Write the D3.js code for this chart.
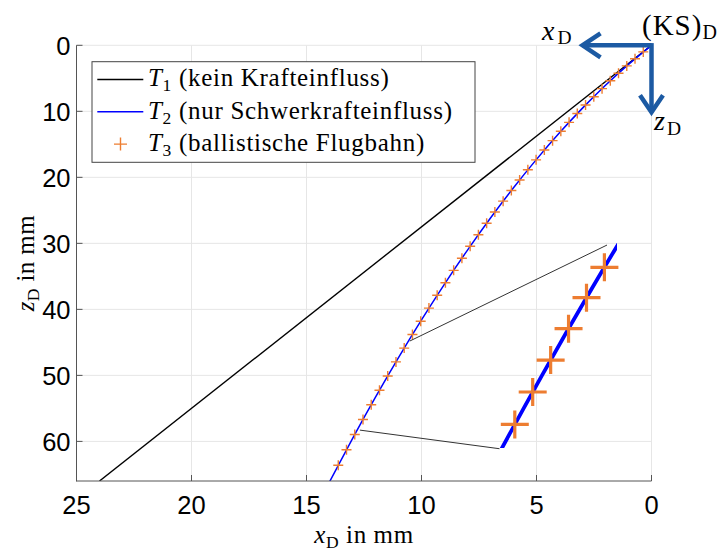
<!DOCTYPE html>
<html>
<head>
<meta charset="utf-8">
<script src="https://cdn.jsdelivr.net/npm/d3@7"></script>
<style>
  body { margin: 0; background: #fff; }
  svg { display: block; }
</style>
</head>
<body>
<svg id="chart" width="721" height="551"></svg>
<script>
// Axis ticks (mm)
const xTicks = [25, 20, 15, 10, 5, 0];
const zTicks = [0, 10, 20, 30, 40, 50, 60];

// T1: straight path without any force
const t1X = [0, 24];
const t1Z = [0, 66];

// T2: path under gravity only
const t2X = [0, 1, 2, 3, 4, 5, 6, 7, 8, 9, 10, 11, 12, 13, 14];
const t2Z = [0, 2.89, 6.06, 9.52, 13.26, 17.28, 21.58, 26.16, 31.02, 36.17, 41.60, 47.31, 53.30, 59.58, 66.14];

// T3: ballistic flight path samples
const t3X = [0, 0.358, 0.717, 1.075, 1.434, 1.792, 2.150, 2.509, 2.867, 3.226,
             3.584, 3.942, 4.301, 4.659, 5.018, 5.376, 5.734, 6.093, 6.451, 6.810,
             7.168, 7.526, 7.885, 8.243, 8.602, 8.960, 9.318, 9.677, 10.035, 10.394,
             10.752, 11.110, 11.469, 11.827, 12.186, 12.544, 12.902, 13.261, 13.619];
const t3Z = [0, 1.00, 2.04, 3.12, 4.23, 5.38, 6.57, 7.79, 9.04, 10.34,
             11.67, 13.03, 14.44, 15.87, 17.35, 18.86, 20.41, 21.99, 23.61, 25.26,
             26.96, 28.69, 30.45, 32.25, 34.09, 35.96, 37.87, 39.81, 41.80, 43.81,
             45.87, 47.96, 50.09, 52.25, 54.45, 56.68, 58.95, 61.26, 63.61];

// Magnified detail window (data range shown in the inset)
const insetXDomain = [10.50, 12.88];
const insetZDomain = [44.2, 58.3];
// Connector lines: point on the main path -> point in the inset
const connMainX = [10.51, 12.68];
const connMainZ = [44.80, 58.29];
const connInsetX = [10.70, 12.85];
const connInsetZ = [44.34, 58.35];

const legendLabels = [
  { sym: "T", sub: "1", text: " (kein Krafteinfluss)", kind: "line", color: "#000000" },
  { sym: "T", sub: "2", text: " (nur Schwerkrafteinfluss)", kind: "line", color: "#0000ff" },
  { sym: "T", sub: "3", text: " (ballistische Flugbahn)", kind: "plus", color: "#ed7d31" }
];

const ORANGE = "#ed7d31";
const BLUE = "#0000ff";
const ARROW = "#1c5aa3";
const SERIF = "'Liberation Serif', 'Times New Roman', serif";
const SANS = "'Liberation Sans', Arial, Helvetica, sans-serif";

const svg = d3.select("#chart");

const plot = { left: 76.5, right: 651.5, top: 45.3, bottom: 481 };
const x = d3.scaleLinear().domain([25, 0]).range([plot.left, plot.right]);
const z = d3.scaleLinear().domain([0, 66]).range([plot.top, plot.bottom]);

const inBox = { left: 498, right: 617, top: 243, bottom: 448 };
const xi = d3.scaleLinear().domain(insetXDomain).range([inBox.right, inBox.left]);
const zi = d3.scaleLinear().domain(insetZDomain).range([inBox.top, inBox.bottom]);

const defs = svg.append("defs");
defs.append("clipPath").attr("id", "clipMain").append("rect")
  .attr("x", plot.left).attr("y", plot.top)
  .attr("width", plot.right - plot.left).attr("height", plot.bottom - plot.top);
defs.append("clipPath").attr("id", "clipInset").append("rect")
  .attr("x", inBox.left).attr("y", inBox.top)
  .attr("width", inBox.right - inBox.left).attr("height", inBox.bottom - inBox.top);

// Grid
const grid = svg.append("g").attr("stroke", "#e6e6e6").attr("stroke-width", 1);
grid.selectAll("line.gx").data(xTicks).join("line")
  .attr("x1", d => x(d)).attr("x2", d => x(d))
  .attr("y1", plot.top).attr("y2", plot.bottom);
grid.selectAll("line.gz").data(zTicks).join("line")
  .attr("x1", plot.left).attr("x2", plot.right)
  .attr("y1", d => z(d)).attr("y2", d => z(d));

const plusPath = (cx, cy, r) => `M${cx - r},${cy}H${cx + r}M${cx},${cy - r}V${cy + r}`;

// Main traces
const main = svg.append("g").attr("clip-path", "url(#clipMain)");
const lineGen = (sx, sy) => d3.line().x(d => sx(d[0])).y(d => sy(d[1]));

main.append("path")
  .datum(d3.zip(t1X, t1Z))
  .attr("d", lineGen(x, z))
  .attr("fill", "none").attr("stroke", "#000").attr("stroke-width", 1.4);

main.append("path")
  .datum(d3.zip(t2X, t2Z))
  .attr("d", lineGen(x, z).curve(d3.curveNatural))
  .attr("fill", "none").attr("stroke", BLUE).attr("stroke-width", 1.5);

main.append("g").selectAll("path").data(d3.zip(t3X, t3Z)).join("path")
  .attr("d", d => plusPath(x(d[0]), z(d[1]), 5))
  .attr("fill", "none").attr("stroke", ORANGE).attr("stroke-width", 1.4);

// Connectors to the inset
svg.append("g").selectAll("line").data(d3.range(connMainX.length)).join("line")
  .attr("x1", i => x(connMainX[i])).attr("y1", i => z(connMainZ[i]))
  .attr("x2", i => xi(connInsetX[i])).attr("y2", i => zi(connInsetZ[i]))
  .attr("stroke", "#333").attr("stroke-width", 1);

// Inset (magnified section)
const inset = svg.append("g").attr("clip-path", "url(#clipInset)");
inset.append("path")
  .datum(d3.zip(t2X, t2Z))
  .attr("d", lineGen(xi, zi).curve(d3.curveNatural))
  .attr("fill", "none").attr("stroke", BLUE).attr("stroke-width", 3.8);
svg.append("g").selectAll("path")
  .data(d3.zip(t3X, t3Z).filter(d => d[0] >= insetXDomain[0] && d[0] <= insetXDomain[1] && d[1] >= insetZDomain[0] && d[1] <= insetZDomain[1]))
  .join("path")
  .attr("d", d => plusPath(xi(d[0]), zi(d[1]), 14))
  .attr("fill", "none").attr("stroke", ORANGE).attr("stroke-width", 3.2);

// Axes (left and bottom only)
const axes = svg.append("g").attr("stroke", "#555").attr("stroke-width", 1);
axes.append("line").attr("x1", plot.left).attr("x2", plot.left).attr("y1", plot.top).attr("y2", plot.bottom + 0.5);
axes.append("line").attr("x1", plot.left).attr("x2", plot.right).attr("y1", plot.bottom).attr("y2", plot.bottom);
axes.selectAll("line.tx").data(xTicks).join("line")
  .attr("x1", d => x(d)).attr("x2", d => x(d))
  .attr("y1", plot.bottom).attr("y2", plot.bottom - 6);
axes.selectAll("line.tz").data(zTicks).join("line")
  .attr("x1", plot.left).attr("x2", plot.left + 6)
  .attr("y1", d => z(d)).attr("y2", d => z(d));

svg.append("g").selectAll("text").data(xTicks).join("text")
  .attr("x", d => x(d)).attr("y", 513.5)
  .attr("text-anchor", "middle")
  .attr("font-family", SANS).attr("font-size", 25.5).attr("fill", "#000")
  .text(d => d);
svg.append("g").selectAll("text").data(zTicks).join("text")
  .attr("x", 70.5).attr("y", d => z(d) + 9.2)
  .attr("text-anchor", "end")
  .attr("font-family", SANS).attr("font-size", 25.5).attr("fill", "#000")
  .text(d => d);

// Axis titles
function subLabel(sel, sym, sub, rest, size) {
  sel.append("tspan").attr("font-style", "italic").text(sym);
  sel.append("tspan").attr("font-size", size * 0.7).attr("dy", size * 0.2).text(sub);
  if (rest) sel.append("tspan").attr("dy", -size * 0.2).text(rest);
}
const xTitle = svg.append("text")
  .attr("x", (plot.left + plot.right) / 2).attr("y", 543)
  .attr("text-anchor", "middle").attr("letter-spacing", 0.6)
  .attr("font-family", SERIF).attr("font-size", 25).attr("fill", "#000");
subLabel(xTitle, "x", "D", " in mm", 25);

const zTitle = svg.append("text")
  .attr("transform", `translate(33.5,${(plot.top + plot.bottom) / 2}) rotate(-90)`)
  .attr("text-anchor", "middle").attr("letter-spacing", 0.4)
  .attr("font-family", SERIF).attr("font-size", 25).attr("fill", "#000");
subLabel(zTitle, "z", "D", " in mm", 25);

// Legend
const lg = svg.append("g");
lg.append("rect").attr("x", 92).attr("y", 61.7).attr("width", 383).attr("height", 100.6)
  .attr("fill", "#fff").attr("stroke", "#444").attr("stroke-width", 1);
legendLabels.forEach((d, i) => {
  const cy = 79.5 + i * 32.3;
  if (d.kind === "line") {
    lg.append("line").attr("x1", 97.3).attr("x2", 143.3).attr("y1", cy).attr("y2", cy)
      .attr("stroke", d.color).attr("stroke-width", 1.4);
  } else {
    lg.append("path").attr("d", plusPath(120.5, cy, 6.5))
      .attr("fill", "none").attr("stroke", d.color).attr("stroke-width", 1.4);
  }
  const t = lg.append("text").attr("x", 148).attr("y", cy + 6.8)
    .attr("letter-spacing", 0.7)
    .attr("font-family", SERIF).attr("font-size", 25).attr("fill", "#000");
  subLabel(t, d.sym, d.sub, d.text, 25);
});

// Coordinate system (KS)_D at the origin
const ox = x(0), oy = z(0);
const cs = svg.append("g").attr("fill", "none").attr("stroke", ARROW)
  .attr("stroke-width", 4.5).attr("stroke-linejoin", "miter");
cs.append("path").attr("d", `M${ox},${oy}H${ox - 69}`);
cs.append("path").attr("d", `M${ox - 51},${oy - 12}L${ox - 69},${oy}L${ox - 51},${oy + 12}`);
cs.append("path").attr("d", `M${ox},${oy - 2.2}V${oy + 67}`);
cs.append("path").attr("d", `M${ox - 11.5},${oy + 50}L${ox},${oy + 67}L${ox + 11.5},${oy + 50}`);

const ks = svg.append("text").attr("x", 642).attr("y", 35)
  .attr("font-family", SERIF).attr("font-size", 29).attr("letter-spacing", 1).attr("fill", "#000");
ks.append("tspan").text("(KS)");
ks.append("tspan").attr("font-size", 20).attr("letter-spacing", 0).attr("dy", 3.5).text("D");

const xl = svg.append("text").attr("x", 542).attr("y", 39.5)
  .attr("font-family", SERIF).attr("font-size", 28).attr("fill", "#000");
xl.append("tspan").attr("font-style", "italic").text("x");
xl.append("tspan").attr("font-size", 19.5).attr("dx", 3).attr("dy", 4).text("D");

const zl = svg.append("text").attr("x", 654).attr("y", 130)
  .attr("font-family", SERIF).attr("font-size", 28).attr("fill", "#000");
zl.append("tspan").attr("font-style", "italic").text("z");
zl.append("tspan").attr("font-size", 19.5).attr("dx", 2).attr("dy", 4.5).text("D");
</script>
</body>
</html>
